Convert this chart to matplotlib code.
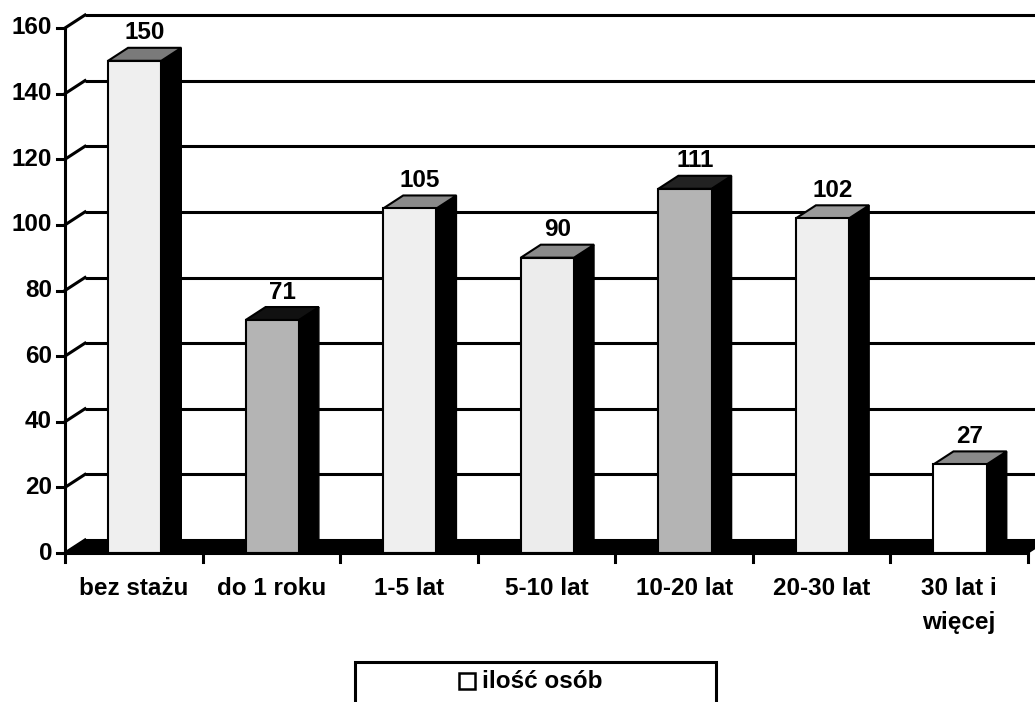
import matplotlib.pyplot as plt
from matplotlib.patches import Polygon, Rectangle

plt.rcParams['font.family'] = ['Liberation Sans', 'DejaVu Sans']
plt.rcParams['font.weight'] = 'bold'

categories = ["bez stażu", "do 1 roku", "1-5 lat", "5-10 lat",
              "10-20 lat", "20-30 lat", "30 lat i\nwięcej"]
values = [150, 71, 105, 90, 111, 102, 27]
yticks = [0, 20, 40, 60, 80, 100, 120, 140, 160]
legend_label = "ilość osób"

front_colors = ["#efefef", "#b4b4b4", "#efefef", "#ececec",
                "#b4b4b4", "#efefef", "#ffffff"]
top_colors = ["#7a7a7a", "#111111", "#8a8a8a", "#8a8a8a",
              "#222222", "#9a9a9a", "#8a8a8a"]

W, H = 1035, 702
FS = 17.5
fig = plt.figure(figsize=(W / 100, H / 100), dpi=100)
# axes box in pixels: x 65..1028, y (from top) 28..553
x0, x1, ytop, ybot = 65, 1028, 28, 553
ax = fig.add_axes([x0 / W, (H - ybot) / H, (x1 - x0) / W, (ybot - ytop) / H])
ax.set_xlim(0, 7)
ax.set_ylim(0, 160)
ax.axis("off")

px_x = (x1 - x0) / 7.0
px_y = (ybot - ytop) / 160.0
dx = 20 / px_x
dy = 13 / px_y
xright = (W - x0) / px_x

# back wall gridlines and left wall diagonals
for t in yticks:
    ax.plot([dx, xright], [t + dy, t + dy], color="black", lw=2.2,
            clip_on=False, zorder=1, solid_capstyle="butt")
    ax.plot([0, dx], [t, t + dy], color="black", lw=2.2, clip_on=False,
            zorder=1)

# floor
ax.add_patch(Polygon([(0, 0), (7, 0), (7 + dx, dy), (dx, dy)],
                     closed=True, facecolor="black", edgecolor="black",
                     zorder=2, clip_on=False))

# axes lines and ticks
ax.plot([0, 0], [0, 160], color="black", lw=2.2, zorder=6, clip_on=False)
ax.plot([0, 7], [0, 0], color="black", lw=2.2, zorder=6, clip_on=False)
tlen_x = 8 / px_x
tlen_y = 9 / px_y
for t in yticks:
    ax.plot([-tlen_x, 0], [t, t], color="black", lw=2.2, clip_on=False,
            zorder=6)
    ax.text(-tlen_x - 5 / px_x, t, str(t), ha="right", va="center",
            fontsize=FS, fontweight="bold")
for i in range(8):
    ax.plot([i, i], [0, -tlen_y], color="black", lw=2.2, clip_on=False,
            zorder=6)

# bars
bl, br = 0.313, 0.700
for i, v in enumerate(values):
    a, b = i + bl, i + br
    ax.add_patch(Polygon([(b, 0), (b, v), (b + dx, v + dy), (b + dx, dy)],
                         closed=True, facecolor="black", edgecolor="black",
                         lw=1, zorder=3))
    ax.add_patch(Polygon([(a, v), (b, v), (b + dx, v + dy), (a + dx, v + dy)],
                         closed=True, facecolor=top_colors[i],
                         edgecolor="black", lw=1.5, zorder=4))
    ax.add_patch(Rectangle((a, 0), b - a, v, facecolor=front_colors[i],
                           edgecolor="black", lw=1.5, zorder=5))
    ax.text((a + b) / 2 + dx / 2, v + dy + 15 / px_y, str(v), ha="center",
            va="center", fontsize=FS, fontweight="bold")

for i, c in enumerate(categories):
    ax.text(i + 0.5, -24 / px_y, c, ha="center", va="top", fontsize=FS,
            fontweight="bold", linespacing=1.6)

# legend box
fig.patches.append(Rectangle((355 / W, -0.01), (716 - 355) / W,
                             (H - 662) / H + 0.01, transform=fig.transFigure,
                             facecolor="white", edgecolor="black", lw=2.2))
fig.patches.append(Rectangle((459 / W, (H - 689) / H), 16 / W, 16 / H,
                             transform=fig.transFigure, facecolor="white",
                             edgecolor="black", lw=1.8))
fig.text(482 / W, (H - 681) / H, legend_label, ha="left", va="center",
         fontsize=FS, fontweight="bold")

fig.savefig("out.png", dpi=100)
